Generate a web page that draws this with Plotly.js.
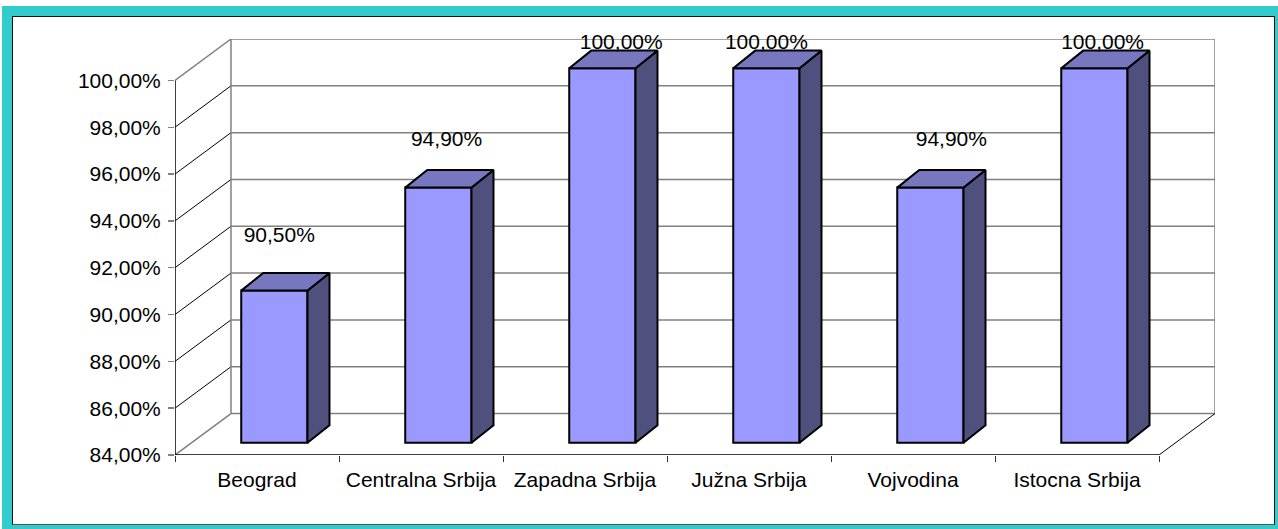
<!DOCTYPE html>
<html>
<head>
<meta charset="utf-8">
<script src="https://cdn.plot.ly/plotly-3.0.1.min.js"></script>
<style>
html,body{margin:0;padding:0;background:#fff;overflow:hidden}
#frame{position:absolute;left:2px;top:6px;width:1276px;height:523px;background:#33CCCC}
#inner{position:absolute;left:10px;top:10px;width:1261px;height:507px;background:#fff;border:1px solid #111;border-bottom-color:#555}
#chart{position:absolute;left:0;top:0;width:1278px;height:529px}
</style>
</head>
<body>
<div id="frame"><div id="inner"></div></div>
<div id="chart"></div>
<script>
// data
const categories = ["Beograd","Centralna Srbija","Zapadna Srbija","Južna Srbija","Vojvodina","Istocna Srbija"];
const values = [90.5,94.9,100,100,94.9,100];
const valueTicks = [84,86,88,90,92,94,96,98,100];
const fmt = v => v.toFixed(2).replace('.',',') + '%';

// oblique projection (depth expressed in axis units)
const yMin = 84, yMax = 100;
const depthX = 0.3413, depthY = 1.77;
const barWidth = 0.404;
const barFrontX = 0.31, barFrontY = 0.295, barDepthX = 0.393, barDepthY = 0.425;
// label placement relative to each bar, in axis units
const labelShiftX = [0.03,0.05,0.115,0,0.128,0.05];
const labelLift = [2.84,2.52,1.56,1.56,2.52,1.56];

const px = (c,dx) => c + dx*depthX;
const py = (v,dy) => v + dy*depthY;
const GRAY = '#808080', FONT = {family:'"Liberation Sans", Arial, sans-serif', size:21, color:'#000'};

const line = (x0,y0,x1,y1,color,width) => ({type:'line',xref:'x',yref:'y',layer:'below',x0,y0,x1,y1,line:{color,width}});
const shapes = [];
const n = categories.length;
// back wall gridlines and side wall diagonals
valueTicks.forEach(v=>{
  const edge = (v===yMin||v===yMax);
  shapes.push(line(px(0,1),py(v,1),px(n,1),py(v,1),GRAY,1.5));
  shapes.push(line(0,v,px(0,1),py(v,1),edge?GRAY:'#000',edge?1.5:1));
});
shapes.push(line(px(0,1),py(yMin,1),px(0,1),py(yMax,1),GRAY,1.5));
shapes.push(line(px(n,1),py(yMin,1),px(n,1),py(yMax,1),GRAY,1.5));
shapes.push(line(n,yMin,px(n,1),py(yMin,1),'#000',1));
// axis lines
shapes.push(line(0,yMin,0,yMax,'#000',1.5));
shapes.push(line(0,yMin,n,yMin,'#000',1.5));

const data = [];
const cx = i => i + 0.5 + barFrontX*depthX;
// front faces
data.push({type:'bar',x:categories.map((_,i)=>cx(i)),y:values.map(v=>v-yMin),
  base:values.map(()=>py(yMin,barFrontY)),width:barWidth,
  marker:{color:'#9999FF',line:{color:'#000',width:2}},hoverinfo:'skip',showlegend:false});
// side and top faces
values.forEach((v,i)=>{
  const l=cx(i)-barWidth/2, r=cx(i)+barWidth/2;
  const ox=barDepthX*depthX, oy=barDepthY*depthY;
  const t=py(v,barFrontY), b=py(yMin,barFrontY);
  data.push({type:'scatter',mode:'lines',x:[r,r+ox,r+ox,r,r],y:[t,t+oy,b+oy,b,t],fill:'toself',
    fillcolor:'#50507F',line:{color:'#000',width:2},hoverinfo:'skip',showlegend:false});
  data.push({type:'scatter',mode:'lines',x:[l,l+ox,r+ox,r,l],y:[t,t+oy,t+oy,t,t],fill:'toself',
    fillcolor:'#7777BF',line:{color:'#000',width:2},hoverinfo:'skip',showlegend:false});
});
// value labels
data.push({type:'scatter',mode:'text',x:values.map((_,i)=>cx(i)+labelShiftX[i]),
  y:values.map((v,i)=>v+labelLift[i]),text:values.map(fmt),textposition:'middle center',
  textfont:FONT,cliponaxis:false,hoverinfo:'skip',showlegend:false});

const layout = {
  width:1278,height:529,autosize:false,showlegend:false,
  paper_bgcolor:'rgba(0,0,0,0)',plot_bgcolor:'rgba(0,0,0,0)',
  margin:{l:174.5,r:62.5,t:38.5,b:74,autoexpand:false,pad:0},
  font:FONT,barmode:'overlay',shapes,
  xaxis:{range:[0,n+depthX],showgrid:false,zeroline:false,showline:false,
    tickmode:'array',tickvals:categories.map((_,i)=>i+0.5),ticktext:categories,ticks:'',
    tickangle:0,tickfont:FONT,ticklabelstandoff:10,
    minor:{tickmode:'array',tickvals:Array.from({length:n+1},(_,i)=>i),ticks:'outside',ticklen:6,tickcolor:'#333',tickwidth:1,showgrid:false}},
  yaxis:{range:[yMin,yMin+(yMax-yMin)+depthY],showgrid:false,zeroline:false,showline:false,
    tickmode:'array',tickvals:valueTicks,ticktext:valueTicks.map(fmt),ticks:'outside',ticklen:6,
    tickcolor:GRAY,tickwidth:1.5,tickfont:FONT,ticklabelstandoff:3}
};
Plotly.newPlot('chart',data,layout,{displayModeBar:false,staticPlot:true});
</script>
</body>
</html>
